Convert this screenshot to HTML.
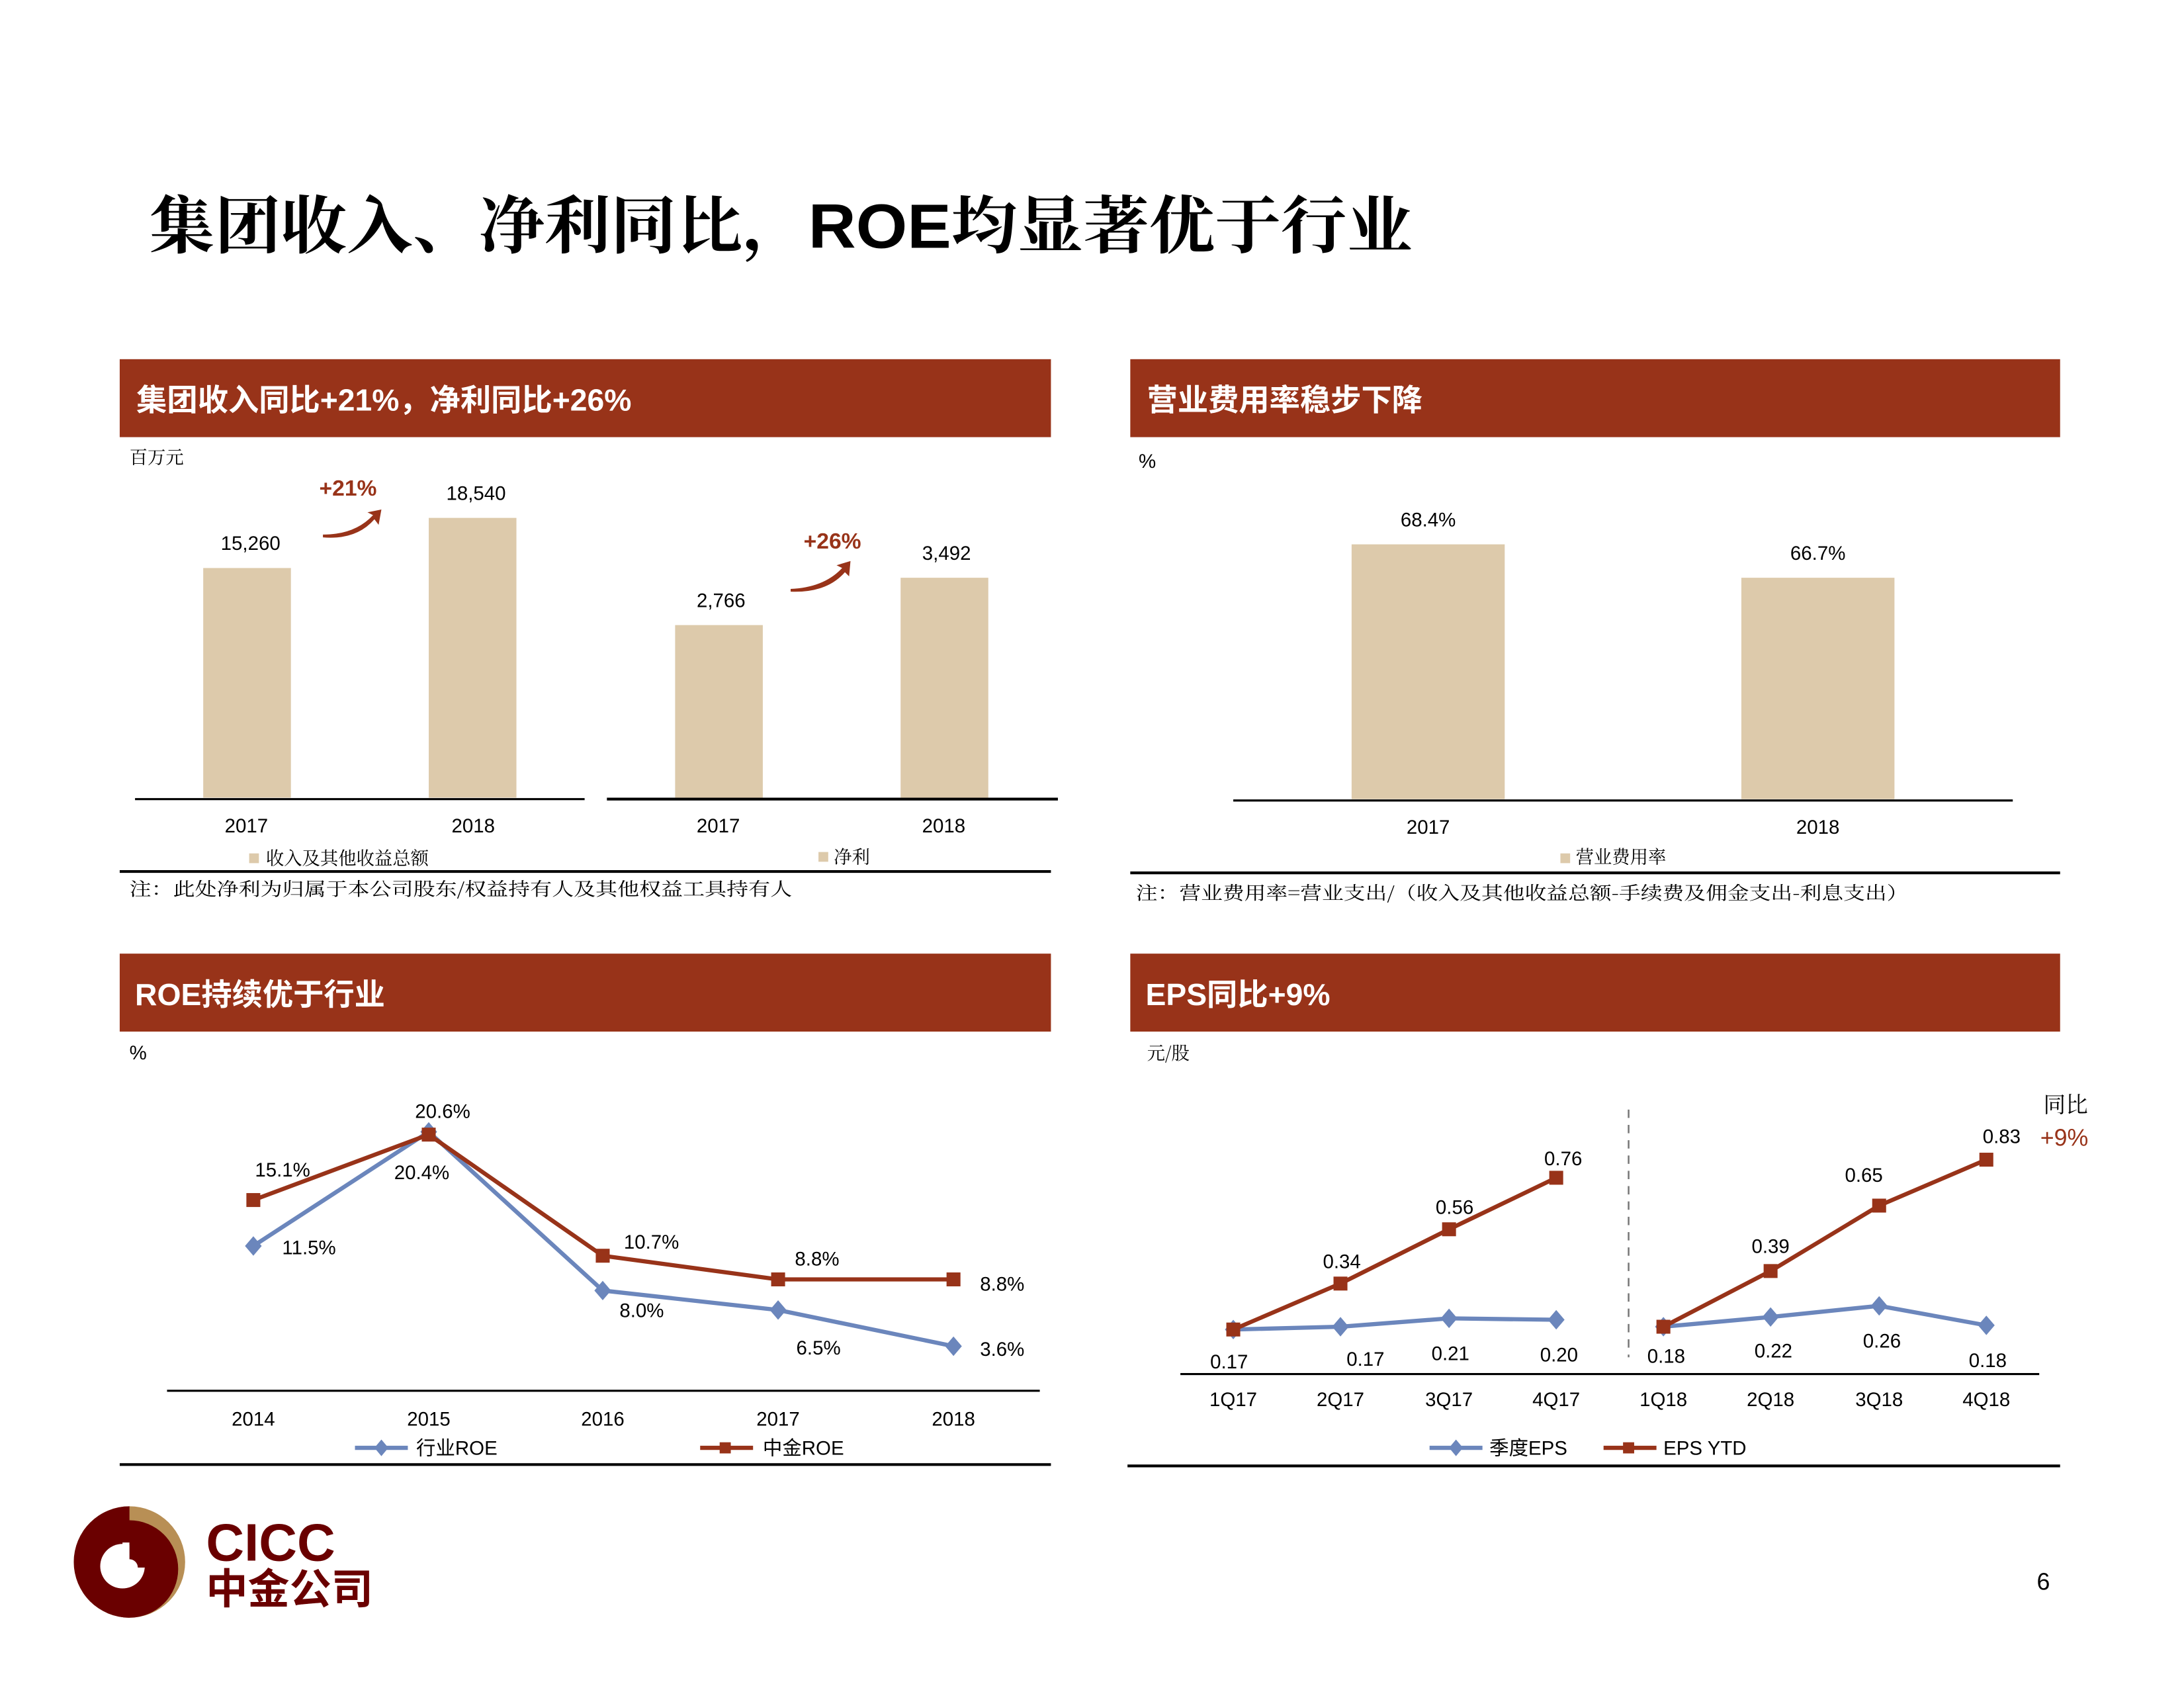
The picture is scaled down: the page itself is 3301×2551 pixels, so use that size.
<!DOCTYPE html>
<html><head><meta charset="utf-8"><style>html,body{margin:0;padding:0;background:#fff}svg{display:block}</style></head>
<body>
<svg width="3301" height="2551" viewBox="0 0 1569 1212.5" xmlns="http://www.w3.org/2000/svg" font-family="'Liberation Sans','Noto Sans CJK SC',sans-serif">
<rect width="1600" height="1250" fill="#fff"/>
<text x="107" y="178" font-size="45" font-weight="bold" fill="#000" textLength="908" lengthAdjust="spacingAndGlyphs" font-family="'Liberation Sans','Noto Serif CJK SC',serif">集团收入、净利同比，ROE均显著优于行业</text>

<g fill="#983319">
<rect x="86" y="258" width="669" height="56"/>
<rect x="812" y="258" width="668" height="56"/>
<rect x="86" y="685" width="669" height="56"/>
<rect x="812" y="685" width="668" height="56"/>
</g>
<g fill="#fff" font-size="22" font-weight="bold">
<text x="98" y="295">集团收入同比+21%，净利同比+26%</text>
<text x="824" y="295">营业费用率稳步下降</text>
<text x="97" y="722">ROE持续优于行业</text>
<text x="823" y="722">EPS同比+9%</text>
</g>

<g font-size="14" fill="#000">
<text x="93" y="333" font-size="13" font-family="'Noto Serif CJK SC',serif">百万元</text>
<line x1="97" y1="574" x2="420" y2="574" stroke="#000" stroke-width="1.5"/>
<rect x="146" y="408" width="63" height="165" fill="#DDCAAB"/>
<rect x="308" y="372" width="63" height="201" fill="#DDCAAB"/>
<text x="180" y="395" text-anchor="middle">15,260</text>
<text x="342" y="359" text-anchor="middle">18,540</text>
<text x="250" y="356" text-anchor="middle" fill="#983319" font-weight="bold" font-size="16">+21%</text>
<path d="M232 384 Q255 384 268 370 L264 368 L274 366 L272 377 L269 373 Q256 388 232 386 Z" fill="#983319"/>
<text x="177" y="598" text-anchor="middle">2017</text>
<text x="340" y="598" text-anchor="middle">2018</text>
<rect x="179" y="613" width="7" height="7" fill="#DDCAAB"/>
<text x="191" y="621" font-size="13" font-family="'Noto Serif CJK SC',serif">收入及其他收益总额</text>
<line x1="436" y1="574" x2="760" y2="574" stroke="#000" stroke-width="2"/>
<rect x="485" y="449" width="63" height="124" fill="#DDCAAB"/>
<rect x="647" y="415" width="63" height="158" fill="#DDCAAB"/>
<text x="518" y="436" text-anchor="middle">2,766</text>
<text x="680" y="402" text-anchor="middle">3,492</text>
<text x="598" y="394" text-anchor="middle" fill="#983319" font-weight="bold" font-size="16">+26%</text>
<path d="M568 423 Q592 422 605 408 L601 406 L611 403 L610 414 L607 411 Q594 426 568 425 Z" fill="#983319"/>
<text x="516" y="598" text-anchor="middle">2017</text>
<text x="678" y="598" text-anchor="middle">2018</text>
<rect x="588" y="612" width="7" height="7" fill="#DDCAAB"/>
<text x="599" y="620" font-size="13" font-family="'Noto Serif CJK SC',serif">净利</text>
<line x1="86" y1="626" x2="755" y2="626" stroke="#000" stroke-width="2"/>
<text x="93" y="643" font-size="13" textLength="476" lengthAdjust="spacingAndGlyphs" font-family="'Noto Serif CJK SC',serif">注：此处净利为归属于本公司股东/权益持有人及其他权益工具持有人</text>
</g>

<g font-size="14" fill="#000">
<text x="818" y="336">%</text>
<line x1="886" y1="575" x2="1446" y2="575" stroke="#000" stroke-width="1.5"/>
<rect x="971" y="391" width="110" height="183" fill="#DDCAAB"/>
<rect x="1251" y="415" width="110" height="159" fill="#DDCAAB"/>
<text x="1026" y="378" text-anchor="middle">68.4%</text>
<text x="1306" y="402" text-anchor="middle">66.7%</text>
<text x="1026" y="599" text-anchor="middle">2017</text>
<text x="1306" y="599" text-anchor="middle">2018</text>
<rect x="1121" y="613" width="7" height="7" fill="#DDCAAB"/>
<text x="1132" y="620" font-size="13" font-family="'Noto Serif CJK SC',serif">营业费用率</text>
<line x1="812" y1="627" x2="1480" y2="627" stroke="#000" stroke-width="2"/>
<text x="816" y="646" font-size="13" textLength="555" lengthAdjust="spacingAndGlyphs" font-family="'Noto Serif CJK SC',serif">注：营业费用率=营业支出/（收入及其他收益总额-手续费及佣金支出-利息支出）</text>
</g>

<g font-size="14" fill="#000">
<text x="93" y="761">%</text>
<line x1="120" y1="999" x2="747" y2="999" stroke="#000" stroke-width="1.5"/>
<polyline points="182,895 308,813 433,927 559,941 685,967" fill="none" stroke="#6B86BC" stroke-width="3"/>
<g fill="#6B86BC">
<path d="M182 888 l6 7 l-6 7 l-6 -7z"/><path d="M308 806 l6 7 l-6 7 l-6 -7z"/><path d="M433 920 l6 7 l-6 7 l-6 -7z"/><path d="M559 934 l6 7 l-6 7 l-6 -7z"/><path d="M685 960 l6 7 l-6 7 l-6 -7z"/>
</g>
<polyline points="182,862 308,815 433,902 559,919 685,919" fill="none" stroke="#983319" stroke-width="3"/>
<g fill="#983319">
<rect x="177" y="857" width="10" height="10"/><rect x="303" y="810" width="10" height="10"/><rect x="428" y="897" width="10" height="10"/><rect x="554" y="914" width="10" height="10"/><rect x="680" y="914" width="10" height="10"/>
</g>
<text x="203" y="845" text-anchor="middle">15.1%</text>
<text x="318" y="803" text-anchor="middle">20.6%</text>
<text x="303" y="847" text-anchor="middle">20.4%</text>
<text x="222" y="901" text-anchor="middle">11.5%</text>
<text x="468" y="897" text-anchor="middle">10.7%</text>
<text x="461" y="946" text-anchor="middle">8.0%</text>
<text x="587" y="909" text-anchor="middle">8.8%</text>
<text x="588" y="973" text-anchor="middle">6.5%</text>
<text x="720" y="927" text-anchor="middle">8.8%</text>
<text x="720" y="974" text-anchor="middle">3.6%</text>
<text x="182" y="1024" text-anchor="middle">2014</text>
<text x="308" y="1024" text-anchor="middle">2015</text>
<text x="433" y="1024" text-anchor="middle">2016</text>
<text x="559" y="1024" text-anchor="middle">2017</text>
<text x="685" y="1024" text-anchor="middle">2018</text>
<line x1="255" y1="1040" x2="293" y2="1040" stroke="#6B86BC" stroke-width="3"/>
<path d="M274 1034 l5 6 l-5 6 l-5 -6z" fill="#6B86BC"/>
<text x="299" y="1045" font-size="14">行业ROE</text>
<line x1="503" y1="1040" x2="541" y2="1040" stroke="#983319" stroke-width="3"/>
<rect x="517" y="1036" width="8" height="8" fill="#983319"/>
<text x="548" y="1045" font-size="14">中金ROE</text>
<line x1="86" y1="1052" x2="755" y2="1052" stroke="#000" stroke-width="2"/>
</g>

<g font-size="14" fill="#000">
<text x="824" y="761" font-size="13" font-family="'Noto Serif CJK SC',serif">元/股</text>
<line x1="848" y1="987" x2="1465" y2="987" stroke="#000" stroke-width="1.5"/>
<line x1="1170" y1="797" x2="1170" y2="975" stroke="#777" stroke-width="1.2" stroke-dasharray="6,5"/>
<polyline points="886,955 963,953 1041,947 1118,948" fill="none" stroke="#6B86BC" stroke-width="3"/>
<polyline points="1195,953 1272,946 1350,938 1427,952" fill="none" stroke="#6B86BC" stroke-width="3"/>
<g fill="#6B86BC">
<path d="M886 948 l6 7 l-6 7 l-6 -7z"/><path d="M963 946 l6 7 l-6 7 l-6 -7z"/><path d="M1041 940 l6 7 l-6 7 l-6 -7z"/><path d="M1118 941 l6 7 l-6 7 l-6 -7z"/>
<path d="M1195 946 l6 7 l-6 7 l-6 -7z"/><path d="M1272 939 l6 7 l-6 7 l-6 -7z"/><path d="M1350 931 l6 7 l-6 7 l-6 -7z"/><path d="M1427 945 l6 7 l-6 7 l-6 -7z"/>
</g>
<polyline points="886,955 963,922 1041,883 1118,846" fill="none" stroke="#983319" stroke-width="3"/>
<polyline points="1195,953 1272,913 1350,866 1427,833" fill="none" stroke="#983319" stroke-width="3"/>
<g fill="#983319">
<rect x="881" y="950" width="10" height="10"/><rect x="958" y="917" width="10" height="10"/><rect x="1036" y="878" width="10" height="10"/><rect x="1113" y="841" width="10" height="10"/>
<rect x="1190" y="948" width="10" height="10"/><rect x="1267" y="908" width="10" height="10"/><rect x="1345" y="861" width="10" height="10"/><rect x="1422" y="828" width="10" height="10"/>
</g>
<text x="964" y="911" text-anchor="middle">0.34</text>
<text x="1045" y="872" text-anchor="middle">0.56</text>
<text x="1123" y="837" text-anchor="middle">0.76</text>
<text x="1272" y="900" text-anchor="middle">0.39</text>
<text x="1339" y="849" text-anchor="middle">0.65</text>
<text x="1438" y="821" text-anchor="middle">0.83</text>
<text x="883" y="983" text-anchor="middle">0.17</text>
<text x="981" y="981" text-anchor="middle">0.17</text>
<text x="1042" y="977" text-anchor="middle">0.21</text>
<text x="1120" y="978" text-anchor="middle">0.20</text>
<text x="1197" y="979" text-anchor="middle">0.18</text>
<text x="1274" y="975" text-anchor="middle">0.22</text>
<text x="1352" y="968" text-anchor="middle">0.26</text>
<text x="1428" y="982" text-anchor="middle">0.18</text>
<text x="1484" y="799" text-anchor="middle" font-size="16" font-family="'Noto Serif CJK SC',serif">同比</text>
<text x="1483" y="823" text-anchor="middle" font-size="17" fill="#983319">+9%</text>
<text x="886" y="1010" text-anchor="middle">1Q17</text>
<text x="963" y="1010" text-anchor="middle">2Q17</text>
<text x="1041" y="1010" text-anchor="middle">3Q17</text>
<text x="1118" y="1010" text-anchor="middle">4Q17</text>
<text x="1195" y="1010" text-anchor="middle">1Q18</text>
<text x="1272" y="1010" text-anchor="middle">2Q18</text>
<text x="1350" y="1010" text-anchor="middle">3Q18</text>
<text x="1427" y="1010" text-anchor="middle">4Q18</text>
<line x1="1027" y1="1040" x2="1065" y2="1040" stroke="#6B86BC" stroke-width="3"/>
<path d="M1046 1034 l5 6 l-5 6 l-5 -6z" fill="#6B86BC"/>
<text x="1070" y="1045">季度EPS</text>
<line x1="1152" y1="1040" x2="1190" y2="1040" stroke="#983319" stroke-width="3"/>
<rect x="1166" y="1036" width="8" height="8" fill="#983319"/>
<text x="1195" y="1045">EPS YTD</text>
<line x1="810" y1="1053" x2="1480" y2="1053" stroke="#000" stroke-width="2"/>
</g>

<circle cx="93" cy="1122" r="40" fill="#B88F55"/>
<circle cx="93" cy="1127" r="35" fill="#6A0000"/>
<path d="M93 1082 A40 40 0 0 0 93 1162 L93 1082Z" fill="#6A0000"/>
<circle cx="88" cy="1125" r="16" fill="#fff"/>
<rect x="88" y="1108" width="5" height="13" fill="#fff"/>
<path d="M93 1108 L93 1120 A6 6 0 0 1 99 1126 L104 1126 A16 16 0 0 0 93 1108Z" fill="#6A0000"/>
<text x="148" y="1121" font-size="38" font-weight="bold" fill="#6A0000">CICC</text>
<text x="148" y="1152" font-size="30" font-weight="bold" fill="#6A0000">中金公司</text>
<text x="1468" y="1142" text-anchor="middle" font-size="17" fill="#000">6</text>
</svg>
</body></html>
